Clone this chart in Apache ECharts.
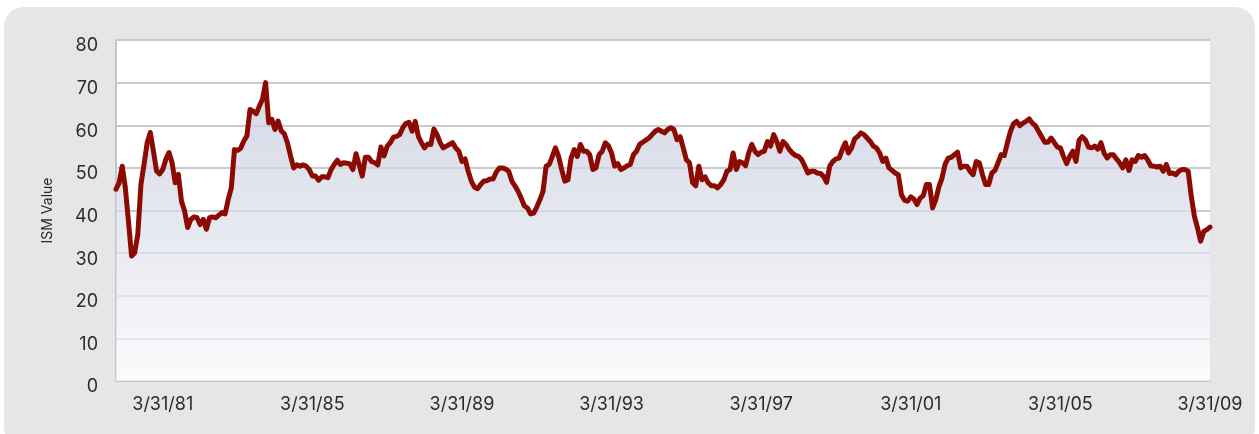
<!DOCTYPE html>
<html>
<head>
<meta charset="utf-8">
<script src="https://cdn.jsdelivr.net/npm/echarts@6/dist/echarts.min.js"></script>
<style>
  html, body { margin: 0; padding: 0; background: #ffffff; }
  #wrap { position: relative; width: 1259px; height: 434px; overflow: hidden; }
  #panel { position: absolute; left: 4px; top: 7px; width: 1251px; height: 440px; background: #e5e6e8; border-radius: 20px; }
  #chart { position: absolute; left: 0; top: 0; width: 1259px; height: 434px; }
</style>
</head>
<body>
<div id="wrap">
  <div id="panel"></div>
  <div id="chart"></div>
</div>
<script>
// Monthly ISM values, 12/31/79 through 3/31/09
const startYear = 1979, startMonth = 12, endYear = 2009, endMonth = 3;
const tickLabels = ['3/31/81', '3/31/85', '3/31/89', '3/31/93', '3/31/97', '3/31/01', '3/31/05', '3/31/09'];
const yTicks = [0, 10, 20, 30, 40, 50, 60, 70, 80];
const ismValues = [
  45.0, 46.5, 50.4, 45.3, 37.5, 29.3, 30.1, 34.4, 46.1, 50.8,
  55.9, 58.3, 54.0, 49.3, 48.6, 49.6, 52.0, 53.6, 51.2, 46.5,
  48.5, 42.2, 39.9, 36.0, 37.9, 38.5, 38.3, 36.7, 37.9, 35.6,
  38.3, 38.5, 38.3, 38.9, 39.5, 39.2, 42.6, 45.3, 54.3, 54.1,
  54.6, 56.3, 57.5, 63.7, 63.3, 62.7, 64.5, 66.1, 70.0, 60.6,
  61.4, 59.0, 61.0, 58.7, 58.0, 55.9, 52.8, 50.0, 50.7, 50.4,
  50.7, 50.4, 49.6, 48.1, 48.1, 47.1, 47.9, 47.9, 47.7, 49.6,
  50.8, 51.8, 50.8, 51.2, 51.1, 51.0, 49.6, 53.3, 50.8, 48.1,
  52.5, 52.5, 51.5, 51.2, 50.7, 54.9, 52.8, 55.1, 55.9, 57.2,
  57.4, 57.8, 59.4, 60.4, 60.7, 58.6, 60.9, 57.4, 55.9, 54.7,
  55.6, 55.5, 59.1, 57.8, 55.9, 54.7, 55.1, 55.5, 55.9, 54.7,
  53.9, 51.5, 52.1, 49.2, 46.9, 45.5, 45.1, 46.1, 46.9, 47.0,
  47.4, 47.4, 49.0, 50.0, 50.0, 49.7, 49.2, 46.9, 45.8, 44.5,
  42.9, 41.1, 40.6, 39.2, 39.4, 40.8, 42.5, 44.5, 50.4, 50.8,
  52.7, 54.7, 52.7, 49.6, 46.9, 47.2, 52.3, 54.3, 52.7, 55.5,
  53.9, 53.9, 53.1, 49.6, 50.0, 53.1, 53.9, 55.9, 55.2, 53.5,
  50.4, 51.0, 49.6, 50.0, 50.5, 50.8, 53.1, 53.9, 55.5, 56.0,
  56.5, 57.0, 57.8, 58.6, 59.0, 58.6, 58.2, 59.0, 59.4, 59.0,
  56.6, 57.3, 54.7, 51.9, 51.2, 46.5, 45.8, 50.4, 47.2, 47.9,
  46.5, 45.8, 45.8, 45.3, 46.1, 47.2, 49.2, 49.6, 53.5, 49.6,
  51.5, 51.2, 50.5, 53.5, 55.5, 53.9, 53.1, 53.7, 53.9, 56.2,
  55.1, 57.8, 56.2, 53.9, 56.2, 55.5, 54.3, 53.5, 52.9, 52.7,
  51.9, 50.4, 48.8, 49.2, 49.2, 48.8, 48.7, 48.0, 46.6, 50.4,
  51.5, 52.1, 52.3, 54.3, 55.9, 53.5, 54.7, 56.8, 57.4, 58.2,
  57.8, 57.0, 56.2, 55.1, 54.7, 53.5, 51.5, 52.3, 50.0, 49.4,
  48.8, 48.4, 43.7, 42.4, 42.2, 43.2, 42.7, 41.4, 42.9, 43.5,
  46.1, 46.1, 40.6, 42.5, 45.5, 47.6, 50.8, 52.3, 52.5, 53.1,
  53.7, 50.0, 50.4, 50.4, 49.2, 48.4, 51.5, 51.2, 48.4, 46.1,
  46.1, 48.8, 49.4, 51.2, 53.1, 52.9, 55.9, 58.6, 60.4, 60.9,
  59.9, 60.5, 60.9, 61.5, 60.5, 59.9, 58.6, 57.3, 56.0, 56.0,
  57.0, 56.0, 54.9, 54.7, 52.7, 51.0, 52.7, 53.9, 51.5, 56.5,
  57.3, 56.6, 54.9, 54.7, 55.1, 54.4, 55.9, 53.5, 52.3, 53.1,
  53.1, 52.1, 51.2, 50.0, 51.9, 49.4, 51.9, 51.5, 52.9, 52.5,
  52.9, 51.9, 50.5, 50.4, 50.2, 50.4, 49.2, 50.8, 48.7, 48.8,
  48.4, 49.2, 49.6, 49.6, 49.2, 43.3, 38.6, 35.9, 32.8, 35.1,
  35.5, 36.1
];

// month-end date categories
const categories = [];
(function () {
  let y = startYear, m = startMonth;
  while (y < endYear || (y === endYear && m <= endMonth)) {
    const last = new Date(y, m, 0).getDate();
    categories.push(m + '/' + last + '/' + String(y % 100).padStart(2, '0'));
    m++; if (m > 12) { m = 1; y++; }
  }
})();

const chart = echarts.init(document.getElementById('chart'), null, { renderer: 'canvas' });
const FONT = 'Inter';
chart.setOption({
  backgroundColor: 'transparent',
  animation: false,
  grid: {
    left: 116, right: 49, top: 40, bottom: 53,
    show: true, backgroundColor: '#ffffff', borderWidth: 0
  },
  xAxis: {
    type: 'category',
    data: categories,
    boundaryGap: false,
    axisLine: { show: true, lineStyle: { color: '#c6c6c8', width: 2 } },
    axisTick: { show: false },
    splitLine: { show: false },
    axisLabel: {
      interval: function (idx, val) { return tickLabels.indexOf(val) >= 0; },
      hideOverlap: false,
      color: '#2b2b2b', fontFamily: FONT, fontSize: 18, margin: 15
    }
  },
  yAxis: {
    type: 'value',
    min: yTicks[0], max: yTicks[yTicks.length - 1], interval: 10,
    name: 'ISM Value',
    nameLocation: 'middle', nameRotate: 90, nameGap: 61,
    nameTextStyle: { color: '#2b2b2b', fontFamily: FONT, fontSize: 14 },
    axisLine: { show: true, lineStyle: { color: '#c6c6c8', width: 2 } },
    axisTick: { show: false },
    splitLine: { show: true, lineStyle: { color: '#cacacc', width: 2 } },
    axisLabel: {
      color: '#2b2b2b', fontFamily: FONT, fontSize: 18, margin: 18,
      verticalAlign: 'top', lineHeight: 12
    }
  },
  series: [{
    type: 'line',
    data: ismValues,
    showSymbol: false,
    symbol: 'none',
    lineStyle: { color: '#8b0b03', width: 5, join: 'round', cap: 'round' },
    areaStyle: {
      origin: 'start',
      color: new echarts.graphic.LinearGradient(0, 0, 0, 1, [
        { offset: 0, color: '#c2c7db' },
        { offset: 1, color: '#f9f9fb' }
      ])
    }
  }]
});
</script>
</body>
</html>
